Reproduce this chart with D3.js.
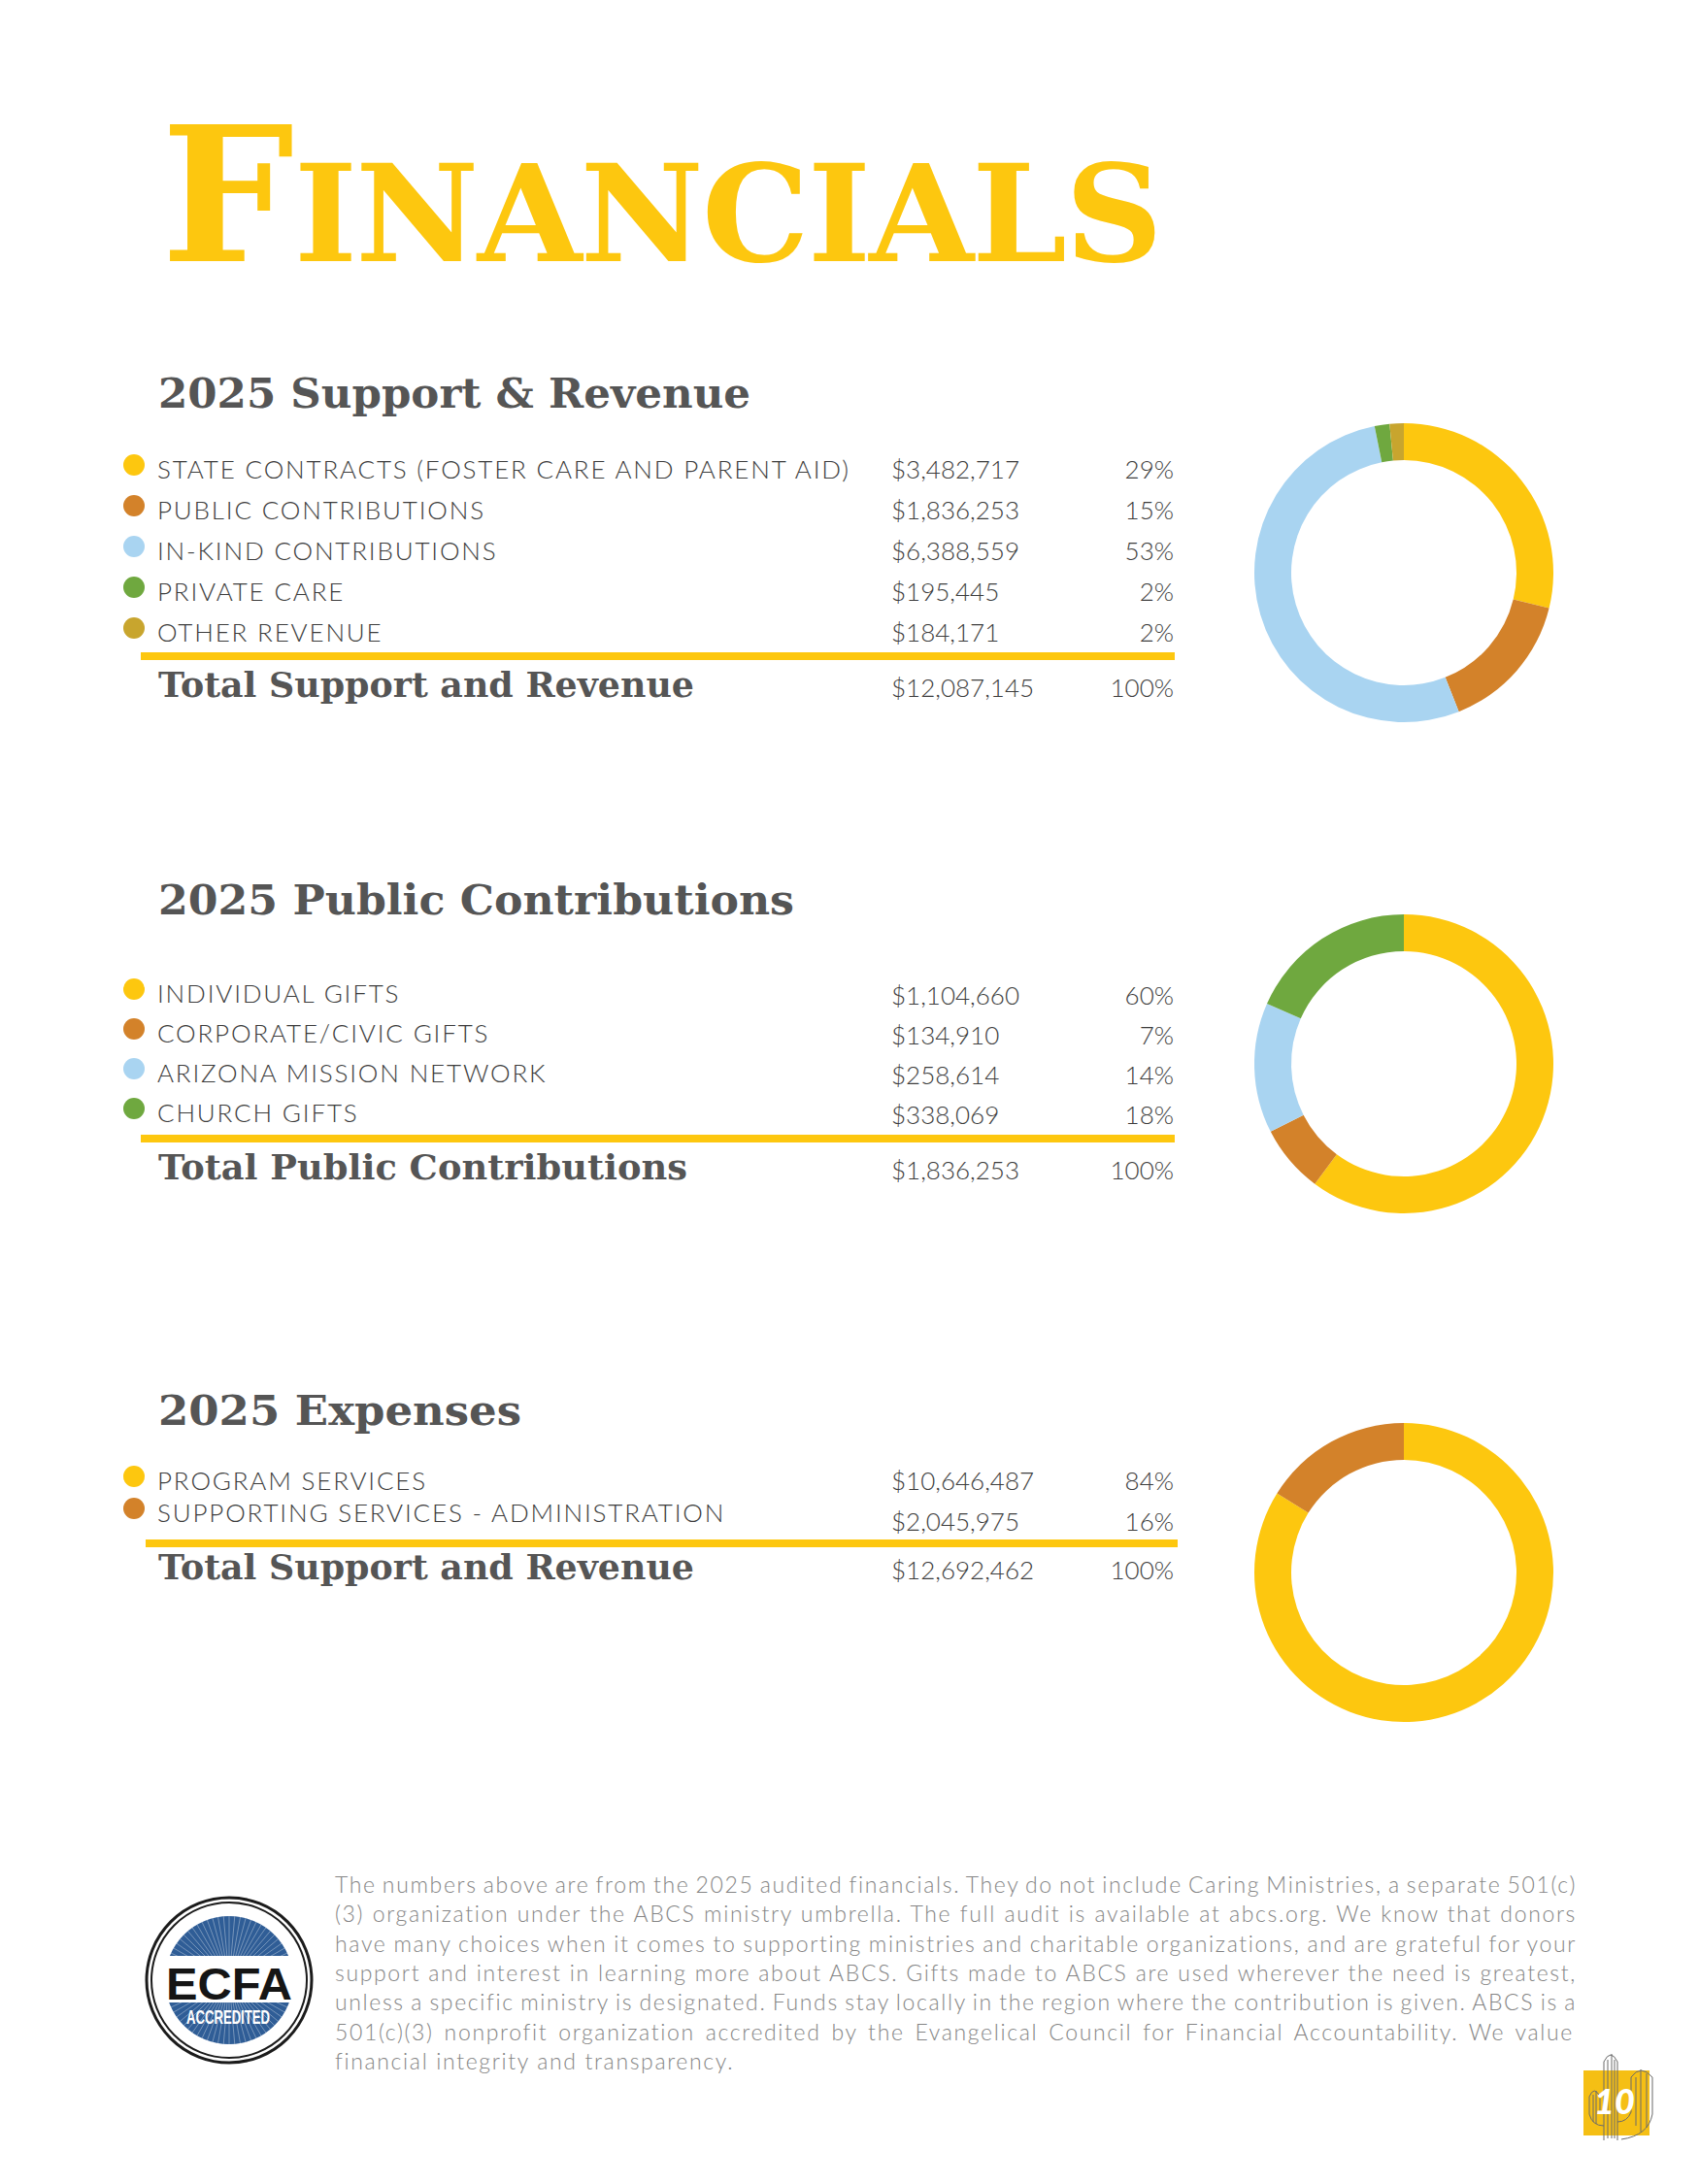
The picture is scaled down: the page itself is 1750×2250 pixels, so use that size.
<!DOCTYPE html>
<html>
<head>
<meta charset="utf-8">
<script src="https://cdn.jsdelivr.net/npm/d3@7"></script>
<style>
  body { margin: 0; background: #fff; }
  svg { display: block; }
</style>
</head>
<body>
<div id="root"></div>
<script>
// ---- data ----
var supportLabels = [
  "STATE CONTRACTS (FOSTER CARE AND PARENT AID)",
  "PUBLIC CONTRIBUTIONS",
  "IN-KIND CONTRIBUTIONS",
  "PRIVATE CARE",
  "OTHER REVENUE"
];
var supportValues = [3482717, 1836253, 6388559, 195445, 184171];

var publicLabels = [
  "INDIVIDUAL GIFTS",
  "CORPORATE/CIVIC GIFTS",
  "ARIZONA MISSION NETWORK",
  "CHURCH GIFTS"
];
var publicValues = [1104660, 134910, 258614, 338069];

var expenseLabels = [
  "PROGRAM SERVICES",
  "SUPPORTING SERVICES - ADMINISTRATION"
];
var expenseValues = [10646487, 2045975];

var footerLines = [
  "The numbers above are from the 2025 audited financials. They do not include Caring Ministries, a separate 501(c)",
  "(3) organization under the ABCS ministry umbrella. The full audit is available at abcs.org. We know that donors",
  "have many choices when it comes to supporting ministries and charitable organizations, and are grateful for your",
  "support and interest in learning more about ABCS. Gifts made to ABCS are used wherever the need is greatest,",
  "unless a specific ministry is designated. Funds stay locally in the region where the contribution is given. ABCS is a",
  "501(c)(3) nonprofit organization accredited by the Evangelical Council for Financial Accountability.  We value",
  "financial integrity and transparency."
];

var colors = ["#FDC70F", "#D3822A", "#A9D4F1", "#6FA83F", "#C8A52E"];
var yellow = "#FDC70F";

// layout for each block (positions only)
var sections = [
  { heading: "2025 Support & Revenue", total: "Total Support and Revenue",
    headW: 610, totalW: 552,
    labels: supportLabels, values: supportValues,
    headY: 420, rowY: [493, 535, 577, 619, 661], amtShift: [0, 0, 0, 0, 0],
    ruleY: 676, ruleX: [145, 1210], totalY: 718, cy: 590 },
  { heading: "2025 Public Contributions", total: "Total Public Contributions",
    headW: 655, totalW: 545,
    labels: publicLabels, values: publicValues,
    headY: 942, rowY: [1033, 1074, 1115, 1156], amtShift: [2, 2, 2, 2],
    ruleY: 1173, ruleX: [145, 1210], totalY: 1215, cy: 1096 },
  { heading: "2025 Expenses", total: "Total Support and Revenue",
    headW: 374, totalW: 552,
    labels: expenseLabels, values: expenseValues,
    headY: 1468, rowY: [1535, 1568], amtShift: [0, 9],
    ruleY: 1590, ruleX: [150, 1213], totalY: 1627, cy: 1620 }
];

var W = 1750, H = 2250;
var slab = "'DejaVu Serif', serif";
var sans = "Lato, 'Open Sans', sans-serif";
var money = d3.format("$,");
var pct = d3.format(".0%");

var svg = d3.select("#root").append("svg")
  .attr("width", W)
  .attr("height", H);

// stretch letter spacing so a text hits a target width
function fitSpacing(sel, target) {
  var node = sel.node();
  var n = sel.text().length;
  var w = node.getComputedTextLength();
  var ls = (target - w) / (n - 1);
  sel.style("letter-spacing", ls + "px");
  return ls;
}

// ---- title ----
var title = svg.append("text")
  .attr("x", 166)
  .attr("y", 269)
  .attr("fill", yellow)
  .attr("font-family", slab)
  .attr("font-weight", "bold");
title.append("tspan").attr("font-size", 193).text("F");
var rest = title.append("tspan").attr("font-size", 139).text("INANCIALS");
var wF = title.node().getSubStringLength(0, 1);
var wRest = rest.node().getComputedTextLength();
rest.style("letter-spacing", ((1196 - 166 - wF - wRest) / 9) + "px");

// ---- tables + donuts ----
var arc = d3.arc().innerRadius(116).outerRadius(154);
var pie = d3.pie().sort(null).value(function(d) { return d; });

var labelNodes = [];

sections.forEach(function(s) {
  var g = svg.append("g");
  var total = d3.sum(s.values);

  // the original slab face is wider, so glyphs are stretched to its width
  g.append("text")
    .attr("x", 163)
    .attr("y", s.headY)
    .attr("font-family", slab)
    .attr("font-weight", "bold")
    .attr("font-size", 42)
    .attr("fill", "#555")
    .attr("textLength", s.headW)
    .attr("lengthAdjust", "spacingAndGlyphs")
    .text(s.heading);

  var rows = g.selectAll("g.row")
    .data(s.values)
    .enter().append("g")
    .attr("class", "row");

  rows.append("circle")
    .attr("cx", 138)
    .attr("cy", function(d, i) { return s.rowY[i] - 14; })
    .attr("r", 11)
    .attr("fill", function(d, i) { return colors[i]; });

  rows.append("text")
    .attr("class", "label")
    .attr("x", 162)
    .attr("y", function(d, i) { return s.rowY[i]; })
    .attr("font-family", sans)
    .attr("font-weight", 300)
    .attr("font-size", 26)
    .attr("fill", "#3d3d3d")
    .text(function(d, i) { return s.labels[i]; })
    .each(function() { labelNodes.push(this); });

  rows.append("text")
    .attr("x", 918)
    .attr("y", function(d, i) { return s.rowY[i] + s.amtShift[i]; })
    .attr("font-family", sans)
    .attr("font-weight", 300)
    .attr("font-size", 26)
    .attr("fill", "#3d3d3d")
    .text(function(d) { return money(d); });

  rows.append("text")
    .attr("x", 1209)
    .attr("y", function(d, i) { return s.rowY[i] + s.amtShift[i]; })
    .attr("text-anchor", "end")
    .attr("font-family", sans)
    .attr("font-weight", 300)
    .attr("font-size", 26)
    .attr("fill", "#3d3d3d")
    .text(function(d) { return pct(d / total); });

  g.append("rect")
    .attr("x", s.ruleX[0])
    .attr("y", s.ruleY - 4)
    .attr("width", s.ruleX[1] - s.ruleX[0])
    .attr("height", 8)
    .attr("fill", yellow);

  g.append("text")
    .attr("x", 163)
    .attr("y", s.totalY)
    .attr("font-family", slab)
    .attr("font-weight", "bold")
    .attr("font-size", 35)
    .attr("fill", "#555")
    .attr("textLength", s.totalW)
    .attr("lengthAdjust", "spacingAndGlyphs")
    .text(s.total);

  g.append("text")
    .attr("x", 918)
    .attr("y", s.totalY)
    .attr("font-family", sans)
    .attr("font-weight", 300)
    .attr("font-size", 26)
    .attr("fill", "#3d3d3d")
    .text(money(total));

  g.append("text")
    .attr("x", 1209)
    .attr("y", s.totalY)
    .attr("text-anchor", "end")
    .attr("font-family", sans)
    .attr("font-weight", 300)
    .attr("font-size", 26)
    .attr("fill", "#3d3d3d")
    .text(pct(1));

  var donut = g.append("g")
    .attr("transform", "translate(1446," + s.cy + ")");
  donut.selectAll("path")
    .data(pie(s.values))
    .enter().append("path")
    .attr("d", arc)
    .attr("fill", function(d, i) { return colors[i]; });
});

// widen the caps labels the way the original face sets them
var ls = fitSpacing(d3.select(labelNodes[0]), 874 - 162);
labelNodes.forEach(function(n) { d3.select(n).style("letter-spacing", ls + "px"); });

// ---- footer paragraph, justified ----
var para = svg.append("g")
  .attr("font-family", sans)
  .attr("font-weight", 300)
  .attr("font-size", 23)
  .attr("fill", "#858585");

var lines = para.selectAll("text")
  .data(footerLines)
  .enter().append("text")
  .attr("x", 345)
  .attr("y", function(d, i) { return 1950 + i * 30.3; })
  .text(function(d) { return d; });

// last line is set ragged; its width gives the tracking of the face
var lastLs = fitSpacing(d3.select(lines.nodes()[footerLines.length - 1]), 754 - 345);
lines.style("letter-spacing", lastLs + "px");
lines.each(function(d, i) {
  if (i === footerLines.length - 1) return;
  var w = this.getComputedTextLength();
  var gaps = d.split(" ").length - 1;
  d3.select(this).style("word-spacing", ((1624 - 345 - w) / gaps) + "px");
});

// ---- ECFA seal ----
var seal = svg.append("g").attr("transform", "translate(236,2040)");
seal.append("circle").attr("r", 85).attr("fill", "#fff")
  .attr("stroke", "#1b1b1b").attr("stroke-width", 3);
seal.append("circle").attr("r", 80).attr("fill", "none")
  .attr("stroke", "#1b1b1b").attr("stroke-width", 2);

seal.append("clipPath").attr("id", "disc")
  .append("circle").attr("r", 66);
seal.append("circle").attr("r", 66).attr("fill", "#2F5D96");
seal.append("g").attr("clip-path", "url(#disc)")
  .selectAll("line")
  .data(d3.range(0, 360, 5))
  .enter().append("line")
  .attr("x1", 0).attr("y1", 0)
  .attr("x2", function(a) { return 70 * Math.cos(a * Math.PI / 180); })
  .attr("y2", function(a) { return 70 * Math.sin(a * Math.PI / 180); })
  .attr("stroke", "#fff")
  .attr("stroke-opacity", 0.35)
  .attr("stroke-width", 1);
seal.append("rect")
  .attr("x", -72).attr("y", -25)
  .attr("width", 144).attr("height", 48)
  .attr("fill", "#fff");
seal.append("text")
  .attr("x", -65).attr("y", 20)
  .attr("textLength", 130)
  .attr("lengthAdjust", "spacingAndGlyphs")
  .attr("font-family", "'Liberation Sans', Arial, sans-serif")
  .attr("font-weight", "bold")
  .attr("font-size", 46)
  .attr("fill", "#151515")
  .text("ECFA");
seal.append("text")
  .attr("x", -44).attr("y", 45)
  .attr("textLength", 86)
  .attr("lengthAdjust", "spacingAndGlyphs")
  .attr("font-family", "'Liberation Sans Narrow', 'Liberation Sans', sans-serif")
  .attr("font-weight", "bold")
  .attr("font-size", 20)
  .attr("fill", "#fff")
  .text("ACCREDITED");

// ---- page number tab with cactus sketch ----
var tab = svg.append("g");
tab.append("rect")
  .attr("x", 1631).attr("y", 2133)
  .attr("width", 68).attr("height", 67)
  .attr("fill", "#F5BF14");
var cactus = [
  "M1652,2205 L1652,2124 Q1659,2110 1666,2124 L1666,2205",
  "M1666,2186 Q1676,2186 1680,2176 L1680,2140 Q1690,2126 1702,2140 L1702,2178 Q1698,2200 1670,2204",
  "M1652,2190 Q1640,2190 1637,2178 L1637,2160 Q1642,2148 1648,2160 L1648,2176",
  "M1656,2122 L1656,2203 M1660,2116 L1660,2203 M1663,2122 L1663,2203",
  "M1685,2140 L1685,2190 M1690,2132 L1690,2196 M1696,2136 L1696,2192",
  "M1641,2158 L1641,2186 M1644,2154 L1644,2188"
];
tab.selectAll("path")
  .data(cactus)
  .enter().append("path")
  .attr("d", function(d) { return d; })
  .attr("fill", "none")
  .attr("stroke", "#6a6a6a")
  .attr("stroke-width", 1);
tab.append("text")
  .attr("x", 1663).attr("y", 2178)
  .attr("text-anchor", "middle")
  .attr("font-family", sans)
  .attr("font-weight", 900)
  .attr("font-style", "italic")
  .attr("font-size", 36)
  .attr("fill", "#fff")
  .text("10");
</script>
</body>
</html>
